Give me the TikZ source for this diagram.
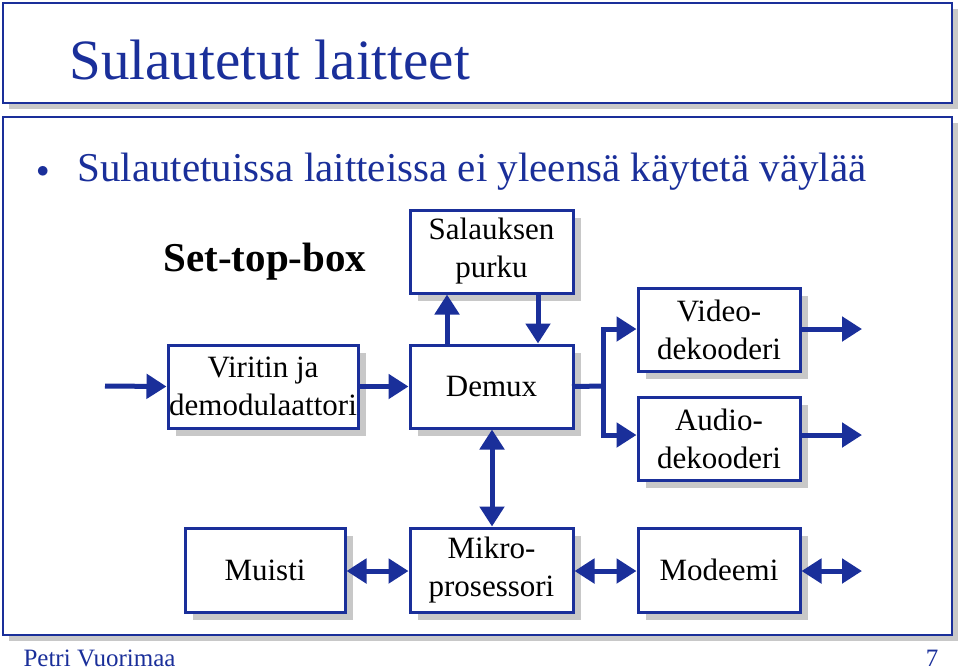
\documentclass[tikz,border=0pt]{standalone}
\usepackage{fontspec}
\setmainfont{Liberation Serif}
\usetikzlibrary{arrows.meta}
\definecolor{dblue}{HTML}{1A2F9A}
\definecolor{shad}{HTML}{C8C8C8}
\begin{document}
\begin{tikzpicture}[x=1pt,y=-1pt,
  blk/.style={draw=dblue,line width=3pt,fill=white,inner sep=0pt,align=center,font=\fontsize{31}{38}\selectfont},
  ar/.style={draw=dblue,line width=5pt,-{Triangle[length=20pt,width=24pt]}},
  dar/.style={draw=dblue,line width=5pt,{Triangle[length=20pt,width=24pt]}-{Triangle[length=20pt,width=24pt]}}]
\useasboundingbox (0,0) rectangle (960,670);
% frames
\fill[shad] (9,9) rectangle (958,109);
\draw[dblue,line width=1.5pt,fill=white] (3,3) rectangle (952,103);
\fill[shad] (9,123) rectangle (958,641);
\draw[dblue,line width=1.5pt,fill=white] (3,117) rectangle (952,635);
\node[anchor=west,text=dblue,font=\fontsize{57}{60}\selectfont] (title) at (66,60) {Sulautetut laitteet};
\node[anchor=west,text=dblue,font=\fontsize{52}{54}\selectfont] (bul) at (33,172) {$\bullet$};
\node[anchor=west,text=dblue,font=\fontsize{41}{44}\selectfont] (l1) at (74,172) {Sulautetuissa laitteissa ei yleensä käytetä väylää};
\node[font=\fontsize{41}{44}\selectfont\bfseries] (stb) at (265,262) {Set-top-box};
% boxes
\newcommand{\blkbox}[6]{%
  \fill[shad] (#2+8,#3+8) rectangle (#4+8,#5+8);
  \node[blk,minimum width=#4-#2,minimum height=#5-#3] (#1) at ({(#2+#4)/2},{(#3+#5)/2}) {#6};}
\blkbox{vir}{168}{345}{358}{428}{Viritin ja\\demodulaattori}
\blkbox{sal}{410}{210}{573}{293}{Salauksen\\purku}
\blkbox{dem}{410}{345}{573}{428}{Demux}
\blkbox{vid}{638}{288}{800}{371}{Video-\\dekooderi}
\blkbox{aud}{638}{397}{800}{480}{Audio-\\dekooderi}
\blkbox{mui}{185}{528}{345}{612}{Muisti}
\blkbox{mik}{410}{528}{573}{612}{Mikro-\\prosessori}
\blkbox{mod}{638}{528}{800}{612}{Modeemi}
\coordinate (in) at (105,386);
\coordinate (vo) at (862,329);
\coordinate (ao) at (862,435);
\coordinate (mo) at (862,571);
\coordinate (br) at (603,386);
\draw[ar] (in) -- (vir.west);
\draw[ar] (vir.east) -- (dem.west);
\draw[ar] (dem.north -| 447,0) -- (sal.south -| 447,0);
\draw[ar] (sal.south -| 538,0) -- (dem.north -| 538,0);
\draw[draw=dblue,line width=5pt,line cap=rect] (dem.east) -- (br);
\draw[ar] (br) |- (vid.west |- vo);
\draw[ar] (br) |- (aud.west |- ao);
\draw[ar] (vid.east |- vo) -- (vo);
\draw[ar] (aud.east |- ao) -- (ao);
\draw[dar] (dem.south -| 492,0) -- (mik.north -| 492,0);
\draw[dar] (mui.east |- mo) -- (mik.west |- mo);
\draw[dar] (mik.east |- mo) -- (mod.west |- mo);
\draw[dar] (mod.east |- mo) -- (mo);
\node[anchor=west,text=dblue,font=\fontsize{25}{27}\selectfont] (ft) at (20,658) {Petri Vuorimaa};
\node[anchor=east,text=dblue,font=\fontsize{25}{27}\selectfont] (pg) at (942,658) {7};
\end{tikzpicture}
\end{document}
